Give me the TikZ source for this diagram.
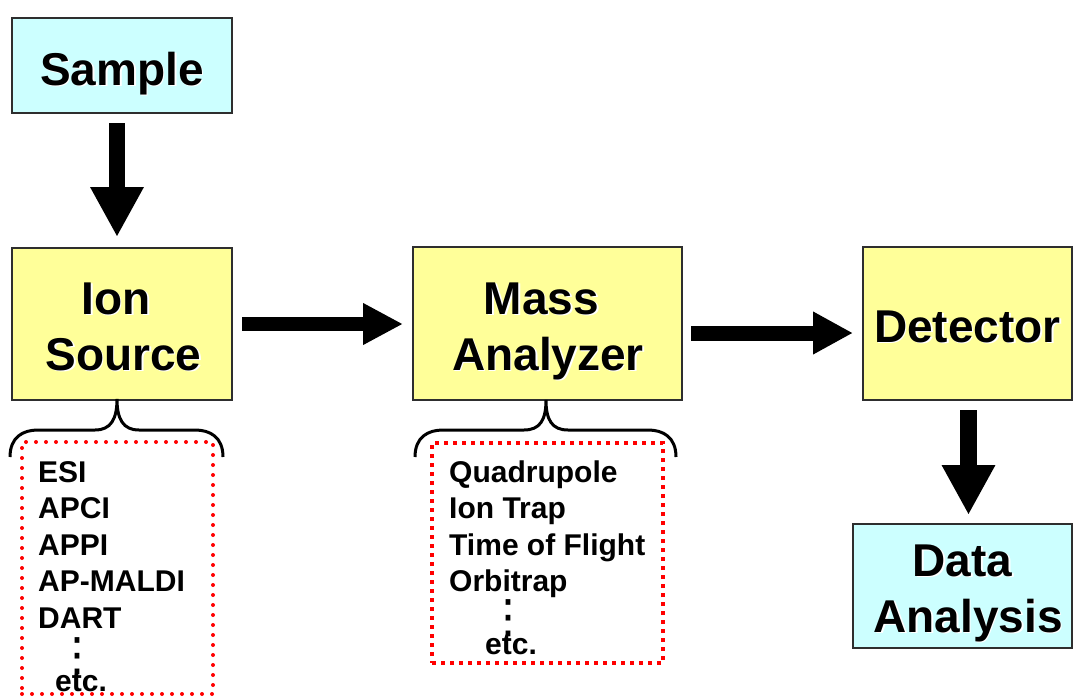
\documentclass[tikz,border=0pt]{standalone}
\usepackage{fontspec}
\setmainfont{Liberation Sans}
\newfontfamily\dotsfont{DejaVu Sans}
\usetikzlibrary{arrows.meta,calc}

\definecolor{boxcyan}{HTML}{CCFFFF}
\definecolor{boxyellow}{HTML}{FFFF99}
\definecolor{boxedge}{HTML}{2E2E2E}
\definecolor{listred}{HTML}{FF0000}

% label text with a light white drop shadow behind it
\newcommand\embossed[1]{\makebox[0pt][l]{\hspace{1.6pt}\raisebox{-1.6pt}{\textcolor{white}{#1}}}#1}

\begin{document}
\begin{tikzpicture}[x=1pt,y=1pt,
  stagebox/.style={draw=boxedge, line width=1.4pt, inner sep=0pt, outer sep=0pt},
  cyanbox/.style={stagebox, fill=boxcyan},
  yellowbox/.style={stagebox, fill=boxyellow},
  boxlabel/.style={inner sep=0pt, anchor=base, font=\fontsize{46}{55}\selectfont\bfseries},
  listtext/.style={inner sep=0pt, anchor=base west, font=\fontsize{30}{36}\selectfont\bfseries},
  moredots/.style={inner sep=0pt, anchor=north, font=\dotsfont\fontsize{46}{48}\selectfont},
  flowarrow/.style n args={3}{line width=#1, -{Triangle[length=#3, width=#2]}},
  bracket/.style={draw=black, line width=3pt},
  rounddots/.style={draw=listred, line width=4pt, dash pattern=on 0pt off 10pt, line cap=round, inner sep=0pt},
  squaredots/.style={draw=listred, line width=4pt, dash pattern=on 4pt off 5pt, inner sep=0pt}
]
\useasboundingbox (0,0) rectangle (1073,-696);

% stage boxes
\node[cyanbox, minimum width=220pt, minimum height=95pt] (sample) at (122,-65.5) {};
\node[yellowbox, minimum width=220pt, minimum height=152pt] (ion) at (122,-324) {};
\node[yellowbox, minimum width=269pt, minimum height=153pt] (mass) at (547.5,-323.5) {};
\node[yellowbox, minimum width=209pt, minimum height=153pt] (det) at (967.5,-323.5) {};
\node[cyanbox, minimum width=219pt, minimum height=124pt] (data) at (962.5,-586) {};

% box labels
\node[boxlabel] (sampletext) at ($(sample.center)+(0,-19.5)$) {\embossed{Sample}};
\node[boxlabel] (iontext1) at ($(ion.center)+(-6,10)$) {\embossed{Ion}};
\node[boxlabel] (iontext2) at ($(ion.center)+(1.5,-46)$) {\embossed{Source}};
\node[boxlabel] (masstext1) at ($(mass.center)+(-6,9.5)$) {\embossed{Mass}};
\node[boxlabel] (masstext2) at ($(mass.center)+(0.5,-46.5)$) {\embossed{Analyzer}};
\node[boxlabel] (dettext) at ($(det.center)+(0,-18.5)$) {\embossed{Detector}};
\node[boxlabel] (datatext1) at ($(data.center)+(0,10)$) {\embossed{Data}};
\node[boxlabel] (datatext2) at ($(data.center)+(5.5,-46)$) {\embossed{Analysis}};

% block arrows between stages
\draw[flowarrow={16pt}{50pt}{50pt}] ($(sample.south)+(-5,-10)$) -- ($(ion.north)+(-5,11)$);
\draw[flowarrow={14pt}{39pt}{40pt}] ($(ion.east)+(10,0)$) -- ($(mass.west)+(-10,-0.5)$);
\draw[flowarrow={15pt}{40pt}{40pt}] ($(mass.east)+(9,-9.5)$) -- ($(det.west)+(-10,-9.5)$);
\draw[flowarrow={17pt}{50pt}{50pt}] ($(det.south)+(1,-10)$) -- ($(data.north)+(6,9)$);

% option lists
\node[rounddots, minimum width=191pt, minimum height=252pt] (ionlist) at (117.5,-568) {};
\node[squaredots, minimum width=231pt, minimum height=220pt] (masslist) at (547.5,-553) {};

\foreach \t [count=\i] in {ESI,APCI,APPI,AP-MALDI,DART}
  \node[listtext] (ionitem\i) at (38,{-482-36.5*(\i-1)}) {\t};
\node[moredots] (iondots) at (77,-637) {⋮};
\node[listtext] (ionetc) at (55,-691) {etc.};

\foreach \t [count=\i] in {Quadrupole,Ion Trap,Time of Flight,Orbitrap}
  \node[listtext] (massitem\i) at (449,{-482-36.5*(\i-1)}) {\t};
\node[moredots] (massdots) at (508,-599) {⋮};
\node[listtext] (massetc) at (485,-654) {etc.};

% braces joining each stage to its list
\coordinate (ionbraceL) at (10,-457);
\coordinate (ionbraceR) at (223,-457);
\coordinate (ionbraceT) at ($(ion.south)+(-5,1)$);
\coordinate (massbraceL) at (415,-457);
\coordinate (massbraceR) at (676,-457);
\coordinate (massbraceT) at ($(mass.south)+(-1.5,0)$);

\foreach \b in {ion,mass}{
  \draw[bracket] (\b braceL) .. controls +(0,20) and +(-15,0) .. ($(\b braceL)+(28,27)$)
    -- ($(\b braceT |- \b braceL)+(-22,27)$)
    .. controls +(16,0) and +(0,-20) .. (\b braceT)
    .. controls +(0,-20) and +(-16,0) .. ($(\b braceT |- \b braceR)+(22,27)$)
    -- ($(\b braceR)+(-28,27)$)
    .. controls +(15,0) and +(0,20) .. (\b braceR);
}
\end{tikzpicture}
\end{document}
